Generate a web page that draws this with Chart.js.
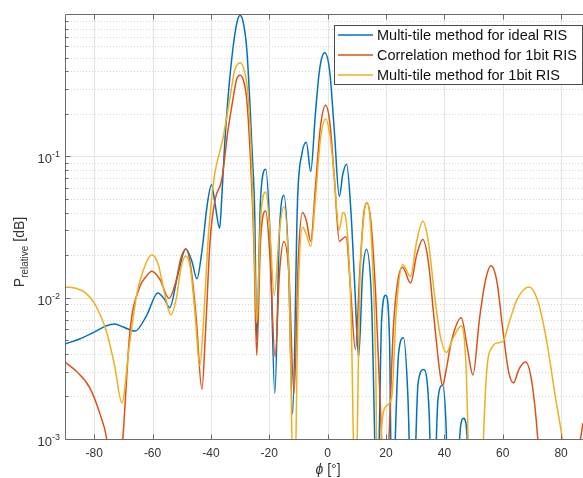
<!DOCTYPE html>
<html>
<head>
<meta charset="utf-8">
<script src="https://cdn.jsdelivr.net/npm/chart.js@4.4.1/dist/chart.umd.min.js"></script>
<style>
  html, body { margin: 0; padding: 0; background: #fff; }
  #wrap { position: relative; width: 583px; height: 478px; }
</style>
</head>
<body>
<div id="wrap"><canvas id="c"></canvas></div>
<script>
// ---- data ----
const seriesLabels = ['Multi-tile method for ideal RIS', 'Correlation method for 1bit RIS', 'Multi-tile method for 1bit RIS'];
const xTicks = [-80, -60, -40, -20, 0, 20, 40, 60, 80];
const yDecades = [1e-3, 1e-2, 1e-1];
const yTickExp = [-3, -2, -1];

const phiBlue = [-90,-85,-80,-76,-73,-70,-66,-62,-58.2,-56,-54.1,-51.5,-48.6,-46.5,-44.8,-43,-41.3,-39.8,-38.5,-37,-36.3,-35.3,-34.2,-32.5,-31,-30,-29,-27.7,-26.7,-25.8,-25,-24.3,-23,-21.2,-19.8,-18.1,-16.5,-15,-13.5,-12,-10.3,-8.8,-7.3,-5.8,-4.2,-2.7,-1,0.7,2.3,4,5.2,6.5,8,9.3,10.6,12,13.3,15,17,18.5,19.9,21.2,22,24.3,26,27.5,29,31,33,34.8,36,37.8,39.4,40.6,41.5,44,45.5,46.6,47.7,49,60,87.5];
const blue = [0.0047,0.0051,0.0057,0.0063,0.0065,0.0062,0.0058,0.0075,0.0108,0.0098,0.0085,0.014,0.0221,0.018,0.0136,0.022,0.045,0.063,0.045,0.031,0.05,0.12,0.25,0.57,0.9,0.99,0.9,0.57,0.25,0.1,0.04,0.005,0.05,0.081,0.03,0.0021,0.03,0.053,0.02,0.0015,0.05,0.105,0.126,0.078,0.2,0.42,0.54,0.4,0.15,0.052,0.075,0.088,0.04,0.012,0.0038,0.015,0.022,0.01,0.0003,0.007,0.0104,0.005,0.0003,0.004,0.0052,0.002,0.0002,0.0025,0.0031,0.0015,0.0002,0.0019,0.0024,0.0012,0.0002,0.0003,0.0012,0.0014,0.0011,0.0002,0.0001,0.0001];

const phiOrange = [-90,-86,-81.5,-78,-75.7,-73,-70.2,-67.8,-64.4,-62.3,-60.3,-57.5,-54.4,-52,-50.3,-48.6,-46.8,-45,-43.1,-41.8,-40.3,-38.5,-36.3,-34.2,-32.5,-31.2,-30,-28.8,-27.7,-26.5,-25.3,-24.3,-23,-21.2,-19.8,-18,-16.5,-15,-13.3,-11.5,-10,-8.6,-7.3,-5.8,-4.2,-2.5,-0.7,0.8,2.3,4,5,6.3,7.8,9.5,11,12.3,13.4,14.8,16.5,18.5,19.5,21,22.5,24,25.7,28.4,30.5,32.6,34.5,36.5,38.5,39.4,40.5,42.5,45.8,47.8,49.8,52,54,56,58,60,62,63.7,65.5,67.8,70,72,73.5,75,80,84,86,87.5];
const orange = [0.0035,0.003,0.0023,0.0015,0.001,0.0003,0.001,0.0056,0.0119,0.014,0.0154,0.0135,0.0099,0.013,0.019,0.0221,0.016,0.007,0.00225,0.006,0.025,0.05,0.068,0.15,0.25,0.35,0.375,0.34,0.25,0.1,0.025,0.0039,0.025,0.041,0.02,0.0038,0.015,0.025,0.015,0.0021,0.02,0.04,0.035,0.025,0.06,0.16,0.23,0.17,0.07,0.025,0.026,0.027,0.012,0.0043,0.015,0.038,0.047,0.035,0.01,0.001,0.0003,0.001,0.006,0.013,0.0164,0.0127,0.02,0.0258,0.018,0.007,0.0029,0.0024,0.003,0.005,0.0072,0.0045,0.00284,0.007,0.013,0.0168,0.013,0.006,0.003,0.0025,0.0031,0.0035,0.0025,0.001,0.0003,0.0001,0.0001,0.0003,0.0008,0.0013];

const phiYellow = [-90,-86,-83,-80,-77.5,-75.7,-73,-70.5,-68,-65.4,-62.5,-60.2,-58,-56,-53.7,-51.8,-50.3,-48.6,-47,-45.5,-43.8,-42.5,-41,-40,-38.7,-36,-33.6,-31.8,-30,-28.5,-27.5,-26.3,-25.3,-24.3,-23,-21.2,-19.8,-18.3,-16.5,-15,-13.3,-11.5,-10,-8.6,-7.3,-5.8,-4.2,-2.5,-0.7,0.8,2.3,3.9,5.3,6.5,8,9.5,11,12.3,13.4,14.8,16.5,17.2,18.5,20,22,23.5,25.7,28.4,30.5,32.6,34.5,36.5,38.5,40.7,43,45.8,47.5,48.5,50,52,53,54.5,56.5,58.5,60,62.5,65,69,72,75,78,81,83.5,87.5];
const yellow = [0.0119,0.0116,0.0108,0.0092,0.0072,0.0057,0.0033,0.0018,0.0045,0.0105,0.017,0.0201,0.017,0.011,0.00755,0.01,0.016,0.0197,0.016,0.008,0.0033,0.007,0.025,0.045,0.075,0.13,0.25,0.41,0.46,0.4,0.3,0.12,0.03,0.0066,0.035,0.056,0.03,0.0104,0.03,0.044,0.015,0.0003,0.012,0.0315,0.028,0.023,0.05,0.13,0.183,0.14,0.07,0.03,0.04,0.033,0.008,0.0003,0.012,0.036,0.047,0.03,0.003,0.0002,0.0012,0.0017,0.002,0.008,0.0172,0.0141,0.025,0.0347,0.025,0.011,0.0055,0.0041,0.0052,0.0063,0.003,0.0005,0.0001,0.0001,0.0006,0.003,0.0045,0.0048,0.0049,0.007,0.0098,0.0119,0.0095,0.005,0.002,0.0008,0.0002,0.0002];

const colors = ['#0072BD', '#D95319', '#EDB120'];

function pts(px, py) { return px.map((p, i) => ({ x: p, y: py[i] })); }

const FONT = "'Liberation Sans', Arial, Helvetica, sans-serif";

const matlabAxes = {
  id: 'matlabAxes',
  beforeDatasetsDraw(chart) {
    const { ctx, chartArea: a, scales: { x, y } } = chart;
    ctx.save();
    ctx.lineWidth = 1;
    // minor y grid (dotted)
    ctx.strokeStyle = '#d6d6d6';
    ctx.setLineDash([1, 2]);
    for (const d of yDecades) {
      for (let k = 2; k <= 9; k++) {
        const py = Math.round(y.getPixelForValue(d * k)) + 0.5;
        if (py < a.top) continue;
        ctx.beginPath(); ctx.moveTo(a.left, py); ctx.lineTo(a.right, py); ctx.stroke();
      }
    }
    ctx.setLineDash([]);
    // major grid
    ctx.strokeStyle = '#e4e4e4';
    for (const d of yDecades) {
      const py = Math.round(y.getPixelForValue(d)) + 0.5;
      ctx.beginPath(); ctx.moveTo(a.left, py); ctx.lineTo(a.right, py); ctx.stroke();
    }
    for (const t of xTicks) {
      const px = Math.round(x.getPixelForValue(t)) + 0.5;
      ctx.beginPath(); ctx.moveTo(px, a.top); ctx.lineTo(px, a.bottom); ctx.stroke();
    }
    ctx.restore();
  },
  afterDatasetsDraw(chart) {
    const { ctx, chartArea: a, scales: { x, y } } = chart;
    ctx.save();
    // axes box
    ctx.strokeStyle = '#6b6b6b';
    ctx.lineWidth = 1;
    const L = a.left + 0.5, T = a.top - 0.5, B = a.bottom + 0.5;
    ctx.beginPath();
    ctx.moveTo(L, B); ctx.lineTo(L, T); ctx.lineTo(a.right, T);
    ctx.moveTo(L, B); ctx.lineTo(a.right, B);
    ctx.stroke();
    // ticks (inward)
    for (const t of xTicks) {
      const px = Math.round(x.getPixelForValue(t)) + 0.5;
      ctx.beginPath();
      ctx.moveTo(px, B); ctx.lineTo(px, B - 5);
      ctx.moveTo(px, T); ctx.lineTo(px, T + 5);
      ctx.stroke();
    }
    for (const d of yDecades) {
      for (let k = 1; k <= 9; k++) {
        const py = Math.round(y.getPixelForValue(d * k)) + 0.5;
        if (py < a.top) continue;
        ctx.beginPath(); ctx.moveTo(L, py); ctx.lineTo(L + (k === 1 ? 5 : 3), py); ctx.stroke();
      }
    }
    // x tick labels
    ctx.fillStyle = '#333';
    ctx.font = '12px ' + FONT;
    ctx.textAlign = 'center';
    ctx.textBaseline = 'alphabetic';
    for (const t of xTicks) {
      ctx.fillText(String(t), x.getPixelForValue(t), a.bottom + 18);
    }
    // y tick labels 10^n
    ctx.textAlign = 'left';
    yDecades.forEach((d, i) => {
      const py = y.getPixelForValue(d);
      const sup = String(yTickExp[i]);
      ctx.font = '9px ' + FONT;
      const sw = ctx.measureText(sup).width;
      ctx.font = '13px ' + FONT;
      const bw = ctx.measureText('10').width;
      const right = a.left - 5;
      ctx.fillText('10', right - sw - bw, py + 7);
      ctx.font = '9px ' + FONT;
      ctx.fillText(sup, right - sw, py + 1);
    });
    // x axis title
    ctx.font = 'italic 14px ' + FONT;
    const phiW = ctx.measureText('ϕ').width;
    ctx.font = '14px ' + FONT;
    const restW = ctx.measureText(' [°]').width;
    const cx = 328, by = 474;
    let sx = cx - (phiW + restW) / 2;
    ctx.font = 'italic 14px ' + FONT;
    ctx.fillText('ϕ', sx, by);
    ctx.font = '14px ' + FONT;
    ctx.fillText(' [°]', sx + phiW, by);
    // y axis title (rotated)
    ctx.save();
    ctx.translate(24, 252);
    ctx.rotate(-Math.PI / 2);
    ctx.font = '14px ' + FONT;
    const pW = ctx.measureText('P').width;
    const dbW = ctx.measureText(' [dB]').width;
    ctx.font = '10px ' + FONT;
    const subW = ctx.measureText('relative').width;
    let tx = -(pW + subW + dbW) / 2;
    ctx.font = '14px ' + FONT;
    ctx.fillText('P', tx, 0);
    ctx.font = '10px ' + FONT;
    ctx.fillText('relative', tx + pW, 4);
    ctx.font = '14px ' + FONT;
    ctx.fillText(' [dB]', tx + pW + subW, 0);
    ctx.restore();
    // legend
    const lx = 334.5, ly = 25.5, lw = 248, lh = 59;
    ctx.fillStyle = '#ffffff';
    ctx.fillRect(lx, ly, lw, lh);
    ctx.strokeStyle = '#4a4a4a';
    ctx.lineWidth = 1;
    ctx.strokeRect(lx, ly, lw, lh);
    ctx.font = '14.5px ' + FONT;
    ctx.textBaseline = 'middle';
    seriesLabels.forEach((lab, i) => {
      const ry = 35 + 20 * i;
      ctx.strokeStyle = colors[i];
      ctx.lineWidth = 1.5;
      ctx.beginPath(); ctx.moveTo(338, ry); ctx.lineTo(373, ry); ctx.stroke();
      ctx.fillStyle = '#111';
      ctx.fillText(lab, 377, ry + 1);
    });
    ctx.restore();
  }
};

const ds = (i, px, py, order) => ({
  label: seriesLabels[i],
  data: pts(px, py),
  borderColor: colors[i],
  backgroundColor: colors[i],
  borderWidth: 1.5,
  pointRadius: 0,
  fill: false,
  cubicInterpolationMode: 'monotone',
  clip: { left: 0, right: 0, top: 2, bottom: 0 },
  order: order
});

new Chart(document.getElementById('c'), {
  type: 'line',
  data: {
    datasets: [
      ds(0, phiBlue, blue, 2),
      ds(1, phiOrange, orange, 1),
      ds(2, phiYellow, yellow, 0)
    ]
  },
  options: {
    responsive: true,
    maintainAspectRatio: false,
    animation: false,
    parsing: true,
    layout: { padding: { left: 65, right: 0, top: 15, bottom: 39 } },
    plugins: { legend: { display: false }, tooltip: { enabled: false } },
    scales: {
      x: { type: 'linear', min: -90, max: 87.5, display: false },
      y: { type: 'logarithmic', min: 1e-3, max: 1, display: false }
    }
  },
  plugins: [matlabAxes]
});
</script>
</body>
</html>
